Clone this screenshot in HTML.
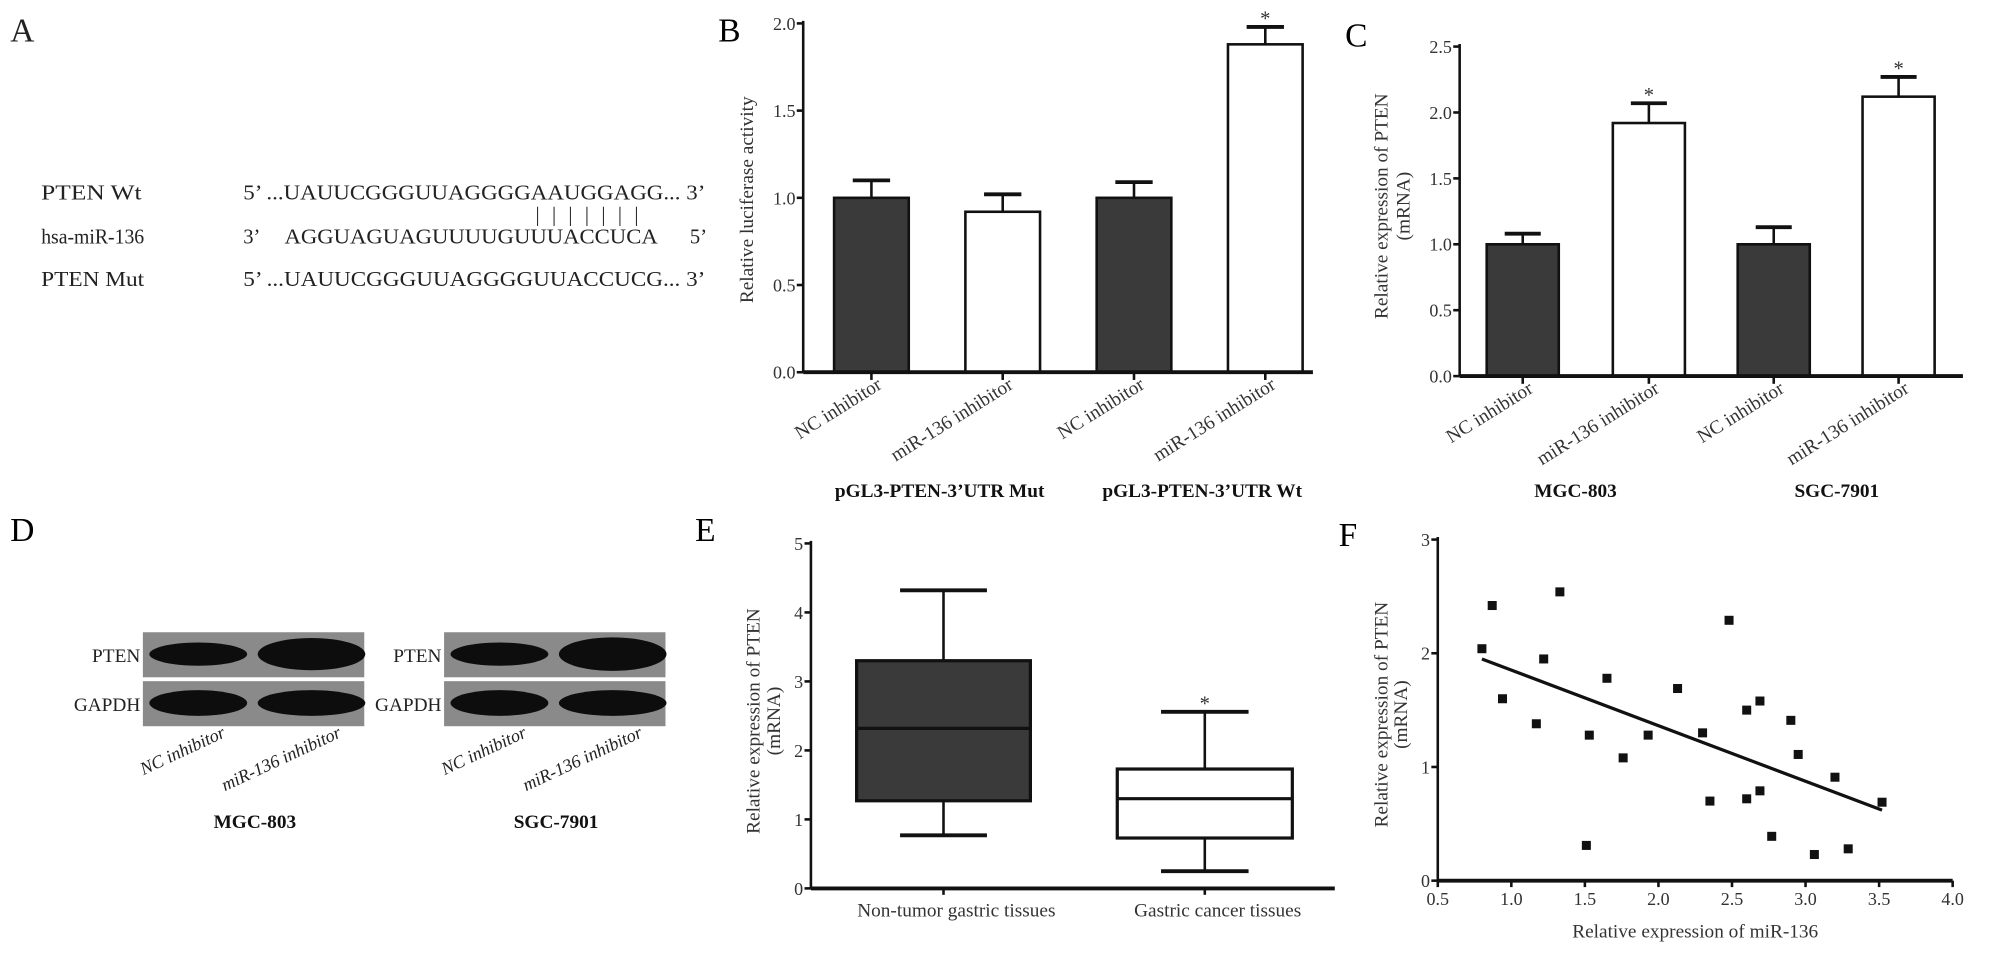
<!DOCTYPE html>
<html><head><meta charset="utf-8"><style>
html,body{margin:0;padding:0;background:#fff;}
svg{display:block;font-family:"Liberation Serif",serif;}
</style></head><body>
<svg id="fig" width="2008" height="962" viewBox="0 0 1560 747" xmlns="http://www.w3.org/2000/svg">
<rect width="1560" height="747" fill="#fff"/>
<g font-size="16" fill="#222">
<text x="8" y="32" font-size="26">A</text>
<text x="32" y="155" textLength="78" lengthAdjust="spacingAndGlyphs">PTEN Wt</text>
<text x="32" y="189" textLength="80" lengthAdjust="spacingAndGlyphs">hsa-miR-136</text>
<text x="32" y="222" textLength="80" lengthAdjust="spacingAndGlyphs">PTEN Mut</text>
<text x="189" y="155" textLength="359" lengthAdjust="spacingAndGlyphs">5’ ...UAUUCGGGUUAGGGGAAUGGAGG... 3’</text>
<text x="189" y="189">3’</text>
<text x="221" y="189" textLength="290" lengthAdjust="spacingAndGlyphs">AGGUAGUAGUUUUGUUUACCUCA</text>
<text x="536" y="189">5’</text>
<text x="189" y="222" textLength="359" lengthAdjust="spacingAndGlyphs">5’ ...UAUUCGGGUUAGGGGUUACCUCG... 3’</text>
<text x="416" y="172" font-size="16" textLength="80" lengthAdjust="spacing">|||||||</text>
</g>
<text x="558" y="32" font-size="26">B</text>
<text x="1045" y="36" font-size="26">C</text>
<text x="8" y="420" font-size="26">D</text>
<text x="540" y="420" font-size="26">E</text>
<text x="1040" y="424" font-size="26">F</text>
<g id="gB"></g>
<g id="gC"></g>
<g id="gD"></g>
<g id="gE"></g>
<g id="gF"></g>
</svg>
<script>
// Panel B data
const bCategories = ["NC inhibitor","miR-136 inhibitor","NC inhibitor","miR-136 inhibitor"];
const bValues = [1.0, 0.92, 1.0, 1.88];
const bErrors = [0.10, 0.10, 0.09, 0.10];
const bSig = [false,false,false,true];
const bTicks = ["0.0","0.5","1.0","1.5","2.0"];
const bGroups = ["pGL3-PTEN-3’UTR Mut","pGL3-PTEN-3’UTR Wt"];
// Panel C data
const cCategories = ["NC inhibitor","miR-136 inhibitor","NC inhibitor","miR-136 inhibitor"];
const cValues = [1.0, 1.92, 1.0, 2.12];
const cErrors = [0.08, 0.15, 0.13, 0.15];
const cSig = [false,true,false,true];
const cTicks = ["0.0","0.5","1.0","1.5","2.0","2.5"];
const cGroups = ["MGC-803","SGC-7901"];
// Panel E data
const eCategories = ["Non-tumor gastric tissues","Gastric cancer tissues"];
const eMin = [0.77, 0.25];
const eQ1 = [1.27, 0.73];
const eMedian = [2.32, 1.30];
const eQ3 = [3.30, 1.73];
const eMax = [4.32, 2.56];
const eTicks = ["0","1","2","3","4","5"];
// Panel F data
const fX = [0.80,0.87,0.94,1.17,1.22,1.33,1.51,1.53,1.65,1.76,1.93,2.13,2.30,2.35,2.48,2.60,2.60,2.69,2.69,2.77,2.90,2.95,3.06,3.20,3.29,3.52];
const fY = [2.04,2.42,1.60,1.38,1.95,2.54,0.31,1.28,1.78,1.08,1.28,1.69,1.30,0.70,2.29,0.72,1.50,1.58,0.79,0.39,1.41,1.11,0.23,0.91,0.28,0.69];
const fFitX = [0.80, 3.52];
const fFitY = [1.95, 0.62];
const fXTicks = ["0.5","1.0","1.5","2.0","2.5","3.0","3.5","4.0"];
const fYTicks = ["0","1","2","3"];

const NS="http://www.w3.org/2000/svg";
function mk(parent,tag,attrs,text){const e=document.createElementNS(NS,tag);for(const k in attrs)e.setAttribute(k,attrs[k]);if(text!==undefined)e.textContent=text;parent.appendChild(e);return e;}

function barPanel(g,cfg,cats,vals,errs,sig,ticks,groups,ylabel){
  const ax=cfg.ax,y0=cfg.y0,yT=cfg.yT,max=cfg.max;
  const y=v=>y0-(v/max)*(y0-yT);
  const bw=cfg.bw;
  ticks.forEach(t=>{const v=parseFloat(t);
    const tk=mk(g,'line',{x1:ax-5,x2:ax,y1:y(v),y2:y(v),stroke:'#111','stroke-width':2});
    
    
    const tl=mk(g,'text',{x:ax-6,y:y(v)+5,'text-anchor':'end','font-size':14,fill:'#333'},t);
    
    
  });
  cats.forEach((c,i)=>{
    const cx=cfg.centers[i];
    const fill=i%2===0?'#3a3a3a':'#fff';
    const r=mk(g,'rect',{x:cx-bw/2,y:y(vals[i]),width:bw,height:y0-y(vals[i]),fill:fill,stroke:'#111','stroke-width':2});
    
    
    const top=y(vals[i]+errs[i]);
    const el=mk(g,'line',{x1:cx,x2:cx,y1:y(vals[i]),y2:top,stroke:'#111','stroke-width':2});
    
    
    const cp=mk(g,'line',{x1:cx-bw/4,x2:cx+bw/4,y1:top,y2:top,stroke:'#111','stroke-width':3});
    
    
    if(sig[i]){const s=mk(g,'text',{x:cx,y:top-1,'text-anchor':'middle','font-size':16,fill:'#333'},'*');
      
      }
    const xt=mk(g,'line',{x1:cx,x2:cx,y1:y0,y2:y0+6,stroke:'#111','stroke-width':2});
    
    
    const lb=mk(g,'text',{x:0,y:0,'text-anchor':'end','font-size':15,fill:'#333',transform:`translate(${cx+9},${y0+12}) rotate(-32)`},c);
    
    
  });
  const ya=mk(g,'line',{x1:ax,x2:ax,y1:yT-2,y2:y0,stroke:'#111','stroke-width':2});
  
  
  const xa=mk(g,'line',{x1:ax,x2:cfg.xEnd,y1:y0,y2:y0,stroke:'#111','stroke-width':3});
  
  
  ylabel.forEach((l,k)=>{
    const t=mk(g,'text',{x:0,y:0,'text-anchor':'middle','font-size':15,fill:'#333',transform:`translate(${cfg.ylx+k*17},${cfg.yly}) rotate(-90)`},l);
    
    
  });
  groups.forEach((gname,k)=>{
    const t=mk(g,'text',{x:cfg.groupX[k],y:386,'text-anchor':'middle','font-size':15,'font-weight':'bold',fill:'#111'},gname);
    
    
  });
}
barPanel(document.getElementById('gB'),{ax:624,y0:289,yT:18,max:2.0,bw:58,centers:[677,779,881,983],xEnd:1020,ylx:585,yly:155,groupX:[730,934]},bCategories,bValues,bErrors,bSig,bTicks,bGroups,["Relative luciferase activity"]);
barPanel(document.getElementById('gC'),{ax:1134,y0:292,yT:36,max:2.5,bw:56,centers:[1183,1281,1378,1475],xEnd:1525,ylx:1078,yly:160,groupX:[1224,1427]},cCategories,cValues,cErrors,cSig,cTicks,cGroups,["Relative expression of PTEN","(mRNA)"]);

// Panel D: western blot
(function(){
  const g=document.getElementById('gD');
  const blots=[{x:111,lab:'MGC-803',bands:[[0.9,1.25],[1,1]]},{x:345,lab:'SGC-7901',bands:[[0.9,1.3],[1,1]]}];
  blots.forEach((b)=>{
    const w=172;
    [[491,'PTEN',0],[529,'GAPDH',1]].forEach(([yy,name,ri])=>{
      const r=mk(g,'rect',{x:b.x,y:yy,width:w,height:35,fill:'#8a8a8a'});
      
      
      [0,1].forEach(li=>{
        const sc=b.bands[ri][li];
        const e=mk(g,'ellipse',{cx:b.x+43+li*88,cy:yy+17,rx:38*(li?1.1:1),ry:10*sc,fill:'#0d0d0d'});
        
        
      });
      const t=mk(g,'text',{x:b.x-2,y:yy+23,'text-anchor':'end','font-size':15,fill:'#222'},name);
      
      
    });
    ['NC inhibitor','miR-136 inhibitor'].forEach((l,li)=>{
      const t=mk(g,'text',{x:0,y:0,'text-anchor':'end','font-size':14,'font-style':'italic',fill:'#222',transform:`translate(${b.x+65+li*90},${572}) rotate(-25)`},l);
      
      
    });
    const t=mk(g,'text',{x:b.x+87,y:643,'text-anchor':'middle','font-size':15,'font-weight':'bold',fill:'#111'},b.lab);
    
    
  });
})();

// Panel E: box plot
(function(){
  const g=document.getElementById('gE');
  const ax=630,y0=690,yT=422,max=5;
  const y=v=>y0-(v/max)*(y0-yT);
  const centers=[733,936],widths=[135,136];
  eTicks.forEach(t=>{const v=parseFloat(t);
    const tk=mk(g,'line',{x1:ax-5,x2:ax,y1:y(v),y2:y(v),stroke:'#111','stroke-width':2});
    
    
    const tl=mk(g,'text',{x:ax-6,y:y(v)+5,'text-anchor':'end','font-size':14,fill:'#333'},t);
    
    
  });
  eCategories.forEach((c,i)=>{
    const cx=centers[i],w=widths[i];
    const wl=mk(g,'line',{x1:cx,x2:cx,y1:y(eMax[i]),y2:y(eMin[i]),stroke:'#111','stroke-width':2});
    
    
    [eMax[i],eMin[i]].forEach(v=>{const cp=mk(g,'line',{x1:cx-w/4,x2:cx+w/4,y1:y(v),y2:y(v),stroke:'#111','stroke-width':3});
      
      });
    const r=mk(g,'rect',{x:cx-w/2,y:y(eQ3[i]),width:w,height:y(eQ1[i])-y(eQ3[i]),fill:i===0?'#3a3a3a':'#fff',stroke:'#111','stroke-width':2.5});
    
    
    const m=mk(g,'line',{x1:cx-w/2,x2:cx+w/2,y1:y(eMedian[i]),y2:y(eMedian[i]),stroke:'#111','stroke-width':2.5});
    
    
    const lb=mk(g,'text',{x:cx+10,y:y0+22,'text-anchor':'middle','font-size':15,fill:'#333'},c);
    
    
    const xt=mk(g,'line',{x1:cx,x2:cx,y1:y0,y2:y0+5,stroke:'#111','stroke-width':2});
    
    
  });
  const s=mk(g,'text',{x:centers[1],y:y(eMax[1])-1,'text-anchor':'middle','font-size':16,fill:'#333'},'*');
  
  
  const ya=mk(g,'line',{x1:ax,x2:ax,y1:yT-2,y2:y0,stroke:'#111','stroke-width':2});
  
  
  const xa=mk(g,'line',{x1:ax,x2:1037,y1:y0,y2:y0,stroke:'#111','stroke-width':3});
  
  
  ["Relative expression of PTEN","(mRNA)"].forEach((l,k)=>{
    const t=mk(g,'text',{x:0,y:0,'text-anchor':'middle','font-size':15,fill:'#333',transform:`translate(${590+k*16},560) rotate(-90)`},l);
    
    
  });
})();

// Panel F: scatter
(function(){
  const g=document.getElementById('gF');
  const ax=1117,xR=1517,y0=684,yT=419;
  const xs=v=>ax+(v-0.5)/3.5*(xR-ax);
  const ys=v=>y0-v/3*(y0-yT);
  fYTicks.forEach(t=>{const v=parseFloat(t);
    const tk=mk(g,'line',{x1:ax-5,x2:ax,y1:ys(v),y2:ys(v),stroke:'#111','stroke-width':2});
    
    
    const tl=mk(g,'text',{x:ax-6,y:ys(v)+5,'text-anchor':'end','font-size':14,fill:'#333'},t);
    
    
  });
  fXTicks.forEach(t=>{const v=parseFloat(t);
    const tk=mk(g,'line',{x1:xs(v),x2:xs(v),y1:y0,y2:y0+5,stroke:'#111','stroke-width':2});
    
    
    const tl=mk(g,'text',{x:xs(v),y:y0+19,'text-anchor':'middle','font-size':14,fill:'#333'},t);
    
    
  });
  fX.forEach((xv,i)=>{
    const p=mk(g,'rect',{x:xs(xv)-3.5,y:ys(fY[i])-3.5,width:7,height:7,fill:'#111'});
    
    
  });
  const fl=mk(g,'line',{x1:xs(fFitX[0]),y1:ys(fFitY[0]),x2:xs(fFitX[1]),y2:ys(fFitY[1]),stroke:'#111','stroke-width':2.5});
  
  
  const ya=mk(g,'line',{x1:ax,x2:ax,y1:yT-2,y2:y0,stroke:'#111','stroke-width':2});
  
  
  const xa=mk(g,'line',{x1:ax,x2:xR,y1:y0,y2:y0,stroke:'#111','stroke-width':3});
  
  
  const xt=mk(g,'text',{x:(ax+xR)/2,y:728,'text-anchor':'middle','font-size':15,fill:'#333'},'Relative expression of miR-136');
  
  
  ["Relative expression of PTEN","(mRNA)"].forEach((l,k)=>{
    const t=mk(g,'text',{x:0,y:0,'text-anchor':'middle','font-size':15,fill:'#333',transform:`translate(${1078+k*15},555) rotate(-90)`},l);
    
    
  });
})();
</script>
</body></html>
